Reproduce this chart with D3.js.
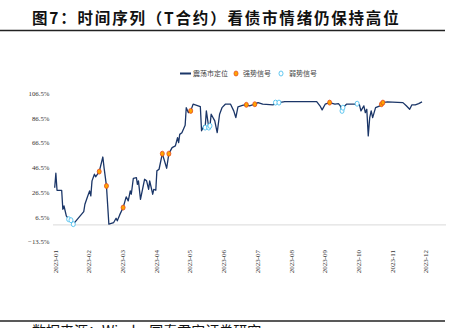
<!DOCTYPE html>
<html><head><meta charset="utf-8">
<script src="https://cdn.jsdelivr.net/npm/d3@7"></script>
<style>
html,body{margin:0;padding:0;background:#fff;}
svg{display:block;}
</style></head>
<body>
<svg id="chart" width="460" height="328"></svg>
<script>
const title = "图7：时间序列（T合约）看债市情绪仍保持高位";
const source = "数据来源：Wind，国泰君安证券研究";
const legendLabels = ["震荡市定位", "强势信号", "弱势信号"];
const yTicks = [-13.5, 6.5, 26.5, 46.5, 66.5, 86.5, 106.5];
const monthTicks = ["2023-01-03","2023-02-01","2023-03-01","2023-04-03","2023-05-04","2023-06-01","2023-07-03","2023-08-01","2023-09-01","2023-10-09","2023-11-01","2023-12-01"];
const monthLabels = ["2023-01","2023-02","2023-03","2023-04","2023-05","2023-06","2023-07","2023-08","2023-09","2023-10","2023-11","2023-12"];

const dates = [
"2023-01-03","2023-01-04","2023-01-05","2023-01-09","2023-01-10","2023-01-11","2023-01-13","2023-01-15","2023-01-17","2023-01-19",
"2023-01-28","2023-01-29","2023-01-31","2023-02-02","2023-02-03","2023-02-04","2023-02-06","2023-02-07","2023-02-10","2023-02-13",
"2023-02-14","2023-02-16","2023-02-18","2023-02-22","2023-02-24","2023-02-25","2023-02-27","2023-03-02","2023-03-05","2023-03-07",
"2023-03-09","2023-03-10","2023-03-12","2023-03-15","2023-03-16","2023-03-17","2023-03-19","2023-03-23","2023-03-25","2023-03-27",
"2023-03-28","2023-03-31","2023-04-01","2023-04-03","2023-04-04","2023-04-06","2023-04-09","2023-04-13","2023-04-15","2023-04-18",
"2023-04-21","2023-04-23","2023-04-24","2023-04-25","2023-04-27","2023-04-30","2023-05-01","2023-05-03","2023-05-05","2023-05-07",
"2023-05-13","2023-05-14","2023-05-16","2023-05-17","2023-05-18","2023-05-20","2023-05-21","2023-05-22","2023-05-25","2023-05-27",
"2023-05-29","2023-05-31","2023-06-03","2023-06-08","2023-06-11","2023-06-13","2023-06-15","2023-06-20","2023-06-23","2023-06-26",
"2023-07-01","2023-07-04","2023-07-08","2023-07-17","2023-07-19","2023-07-22","2023-07-27","2023-08-25","2023-08-28","2023-08-30",
"2023-09-02","2023-09-07","2023-09-13","2023-09-17","2023-09-19","2023-09-21","2023-09-22","2023-09-26","2023-10-07","2023-10-08",
"2023-10-10","2023-10-11","2023-10-13","2023-10-14","2023-10-15","2023-10-16","2023-10-17","2023-10-18","2023-10-19","2023-10-21",
"2023-10-24","2023-10-25","2023-10-26","2023-10-29","2023-11-11","2023-11-14","2023-11-17","2023-11-19","2023-11-22","2023-11-25",
"2023-11-28"];
const values = [
30.1, 41.8, 28.0, 28.0, 12.6, 15.3, 7.3, 4.6, 3.8, 0.6,
10.7, 16.7, 22.1, 27.5, 23.5, 35.6, 41.0, 38.9, 43.1, 54.9,
46.3, 31.5, 0.6, 1.9, 5.4, 3.3, 8.1, 14.0, 22.7, 19.4,
27.5, 24.8, 37.7, 38.2, 32.8, 35.6, 20.7, 36.9, 35.6, 28.8,
35.6, 24.8, 28.8, 28.0, 43.7, 45.0, 57.6, 45.8, 57.6, 62.5,
63.9, 70.5, 66.5, 73.2, 74.6, 80.6, 94.8, 90.8, 92.2, 97.6,
95.7, 76.1, 80.1, 78.7, 92.2, 78.7, 80.1, 89.5, 84.1, 74.6,
89.5, 94.8, 97.6, 97.6, 92.2, 86.8, 95.5, 96.8, 97.1, 96.3,
97.6, 98.9, 97.6, 97.1, 98.9, 98.9, 99.7, 99.7, 96.3, 93.0,
97.6, 98.9, 97.6, 98.1, 96.3, 92.2, 94.8, 97.6, 97.6, 98.0,
97.1, 92.2, 96.3, 90.8, 93.5, 72.0, 86.8, 92.2, 86.8, 94.8,
96.3, 97.6, 98.9, 99.5, 98.9, 96.3, 93.5, 97.1, 97.1, 98.1,
99.5];
const signals = [
"", "", "", "", "", "", "", "W", "W", "W",
"", "", "", "", "", "", "", "", "S", "",
"", "S", "", "", "", "", "", "S", "", "",
"", "", "", "", "", "", "", "", "", "",
"", "", "", "", "", "", "S", "", "S", "",
"", "", "", "", "", "", "", "", "S", "",
"", "", "", "W", "", "W", "W", "", "", "",
"", "", "", "", "", "", "", "", "S", "",
"S", "", "", "", "W", "W", "", "", "", "",
"", "S", "", "", "", "W", "W", "", "", "W",
"", "", "", "", "", "", "", "", "", "",
"", "S", "S", "", "", "", "", "", "", "",
""];

const parse = d3.timeParse("%Y-%m-%d");
const data = dates.map((d, i) => ({date: parse(d), value: values[i], signal: signals[i]}));

const svg = d3.select("#chart");
const navy = "#1B3668";

// title
svg.append("text").attr("x", 32).attr("y", 24)
  .attr("font-family", "'Noto Sans CJK SC', sans-serif").attr("font-weight", 700)
  .attr("font-size", 15.5).attr("letter-spacing", 1.8).attr("fill", "#111").text(title);
svg.append("line").attr("x1", 0).attr("x2", 445).attr("y1", 30.5).attr("y2", 30.5)
  .attr("stroke", "#222").attr("stroke-width", 1.5);

// scales
const xPos = monthTicks.map((d, i) => 54.7 + 33.7 * i);
const x = d3.scaleTime().domain(monthTicks.map(parse)).range(xPos);
const y = d3.scaleLinear().domain([-13.5, 106.5]).range([241.6, 93.2]);

// y axis labels
const yAxis = d3.axisLeft(y).tickValues(yTicks).tickSize(0).tickPadding(0)
  .tickFormat(d => d3.format(".1f")(d) + "%");
const gy = svg.append("g").attr("transform", "translate(49.5,0)").call(yAxis);
gy.select(".domain").remove();
gy.selectAll("text").attr("font-family", "'Liberation Serif', serif").attr("font-size", 6.8).attr("fill", "#333");

// zero line
svg.append("line").attr("x1", 53).attr("x2", 446).attr("y1", y(0)).attr("y2", y(0))
  .attr("stroke", "#D9D9D9").attr("stroke-width", 1);

// x axis labels
const xAxis = d3.axisBottom(x).tickValues(monthTicks.map(parse)).tickSize(0).tickPadding(0)
  .tickFormat((d, i) => monthLabels[i]);
const gx = svg.append("g").attr("transform", "translate(0,250)").call(xAxis);
gx.select(".domain").remove();
gx.selectAll("text")
  .attr("font-family", "'Liberation Serif', serif").attr("font-size", 7).attr("fill", "#333")
  .attr("text-anchor", "end").attr("dy", "0.35em").attr("y", 0)
  .attr("transform", "rotate(-90)");

// line
const line = d3.line().x(d => x(d.date)).y(d => y(d.value));
svg.append("path").datum(data).attr("d", line)
  .attr("fill", "none").attr("stroke", navy).attr("stroke-width", 1.3).attr("stroke-linejoin", "round");

// markers
svg.append("g").selectAll("ellipse").data(data.filter(d => d.signal === "S")).join("ellipse")
  .attr("cx", d => x(d.date)).attr("cy", d => y(d.value)).attr("rx", 2).attr("ry", 2.5)
  .attr("fill", "#FFA500").attr("stroke", "#E5481E").attr("stroke-width", 0.8);
svg.append("g").selectAll("ellipse").data(data.filter(d => d.signal === "W")).join("ellipse")
  .attr("cx", d => x(d.date)).attr("cy", d => y(d.value)).attr("rx", 2).attr("ry", 2.5)
  .attr("fill", "#fff").attr("stroke", "#4FC1EE").attr("stroke-width", 0.9);

// legend
const lg = svg.append("g").attr("font-family", "'Noto Sans CJK SC', sans-serif").attr("font-size", 7).attr("fill", "#444");
lg.append("line").attr("x1", 180).attr("x2", 191).attr("y1", 73.5).attr("y2", 73.5).attr("stroke", navy).attr("stroke-width", 2);
lg.append("text").attr("x", 193).attr("y", 76).text(legendLabels[0]);
lg.append("ellipse").attr("cx", 236).attr("cy", 73.5).attr("rx", 2).attr("ry", 2.5)
  .attr("fill", "#FFA500").attr("stroke", "#E5481E").attr("stroke-width", 0.8);
lg.append("text").attr("x", 243).attr("y", 76).text(legendLabels[1]);
lg.append("ellipse").attr("cx", 281).attr("cy", 73.5).attr("rx", 2).attr("ry", 2.5)
  .attr("fill", "#fff").attr("stroke", "#4FC1EE").attr("stroke-width", 0.9);
lg.append("text").attr("x", 289).attr("y", 76).text(legendLabels[2]);

// footer (cut off at the bottom edge, as in the reference)
svg.append("line").attr("x1", 0).attr("x2", 445).attr("y1", 321).attr("y2", 321)
  .attr("stroke", "#222").attr("stroke-width", 1.5);
svg.append("text").attr("x", 32).attr("y", 336)
  .attr("font-family", "'Noto Sans CJK SC', sans-serif").attr("font-size", 14).attr("fill", "#111").text(source);
</script>
</body></html>
